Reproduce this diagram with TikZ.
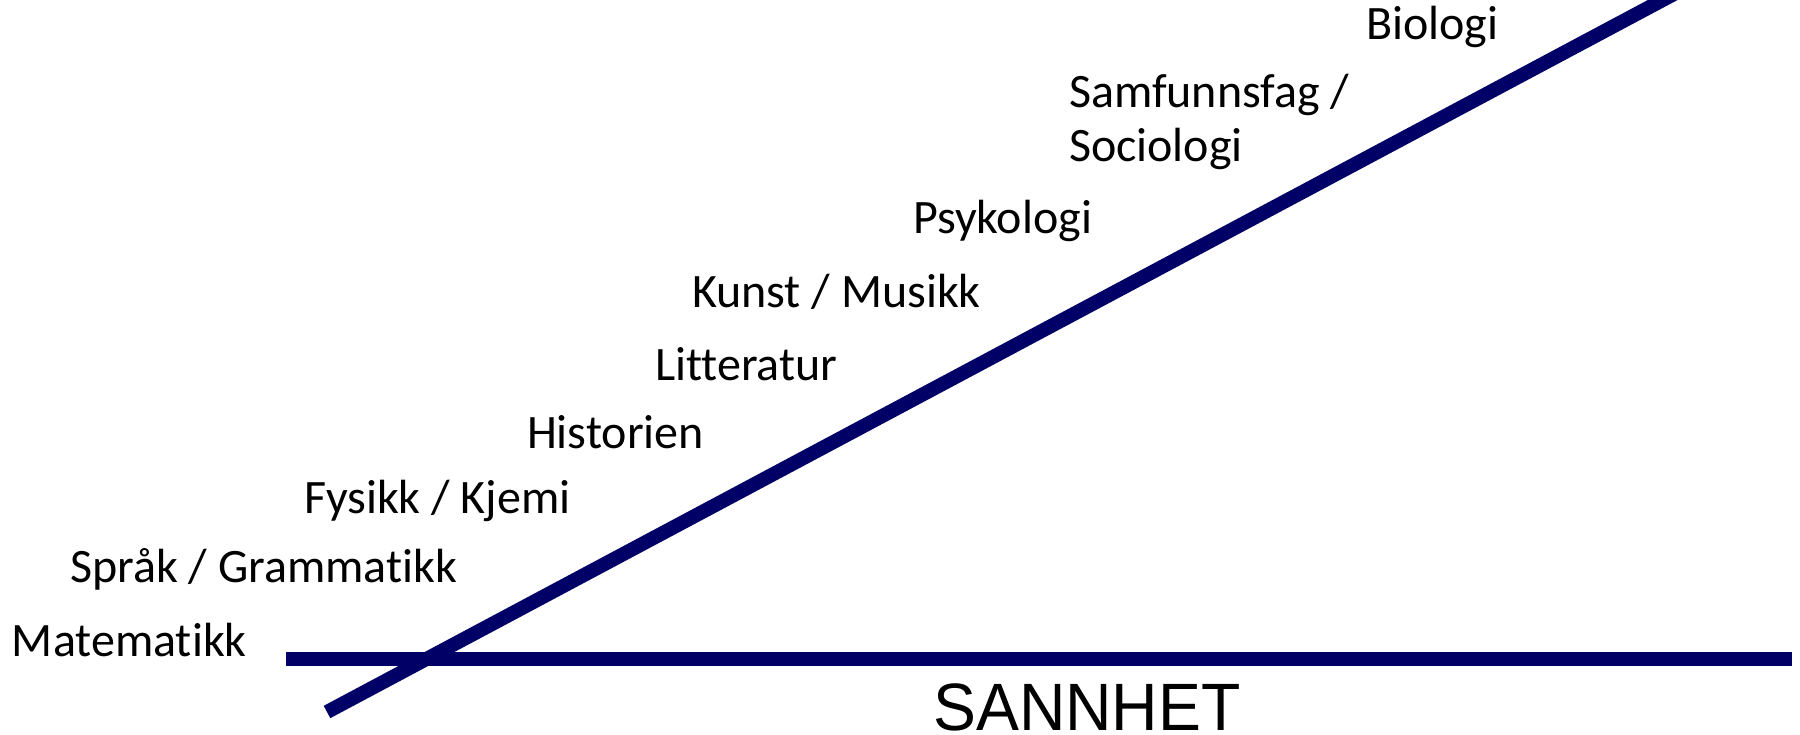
\documentclass[tikz,border=0pt]{standalone}
\usepackage{fontspec}
\setmainfont{Carlito}[Ligatures={NoCommon}]
\newfontfamily\arialfont{Liberation Sans}
\definecolor{navyline}{RGB}{0,0,102}
\tikzset{
  lbl/.style={anchor=base west, inner sep=0pt, outer sep=0pt, font=\fontsize{48}{56}\selectfont, text=black},
  axis/.style={draw=navyline, line width=14pt, line cap=butt},
}
\begin{document}
\begin{tikzpicture}[x=1pt, y=-1pt]
\useasboundingbox (0,0) rectangle (1800,735);
\fill[white] (0,0) rectangle (1800,735);
\coordinate (hstart) at (286,659);
\coordinate (hend) at (1792,659);
\coordinate (dstart) at (327,712);
\coordinate (dend) at (1719,-30);
\begin{scope}
\clip (0,0) rectangle (1800,735);
\draw[axis] (hstart) -- (hend);
\draw[axis] (dstart) -- (dend);
\end{scope}
\node[lbl] (bio) at (1366,40) {Biologi};
\node[lbl] (samf) at (1069,108) {Samfunnsfag /};
\node[lbl] (soc) at (1069,162) {Sociologi};
\node[lbl] (psy) at (913,234) {Psykologi};
\node[lbl] (kun) at (692,308) {Kunst / Musikk};
\node[lbl] (lit) at (655,381) {Litteratur};
\node[lbl] (his) at (527,448) {Historien};
\node[lbl] (fys) at (304,513) {Fysikk / Kjemi};
\node[lbl] (spr) at (70,582) {Språk / Grammatikk};
\node[lbl] (mat) at (12,656) {Matematikk};
\node[anchor=base west, inner sep=0pt, font=\arialfont\fontsize{67}{80}\selectfont] (sann) at (933,730) {\scalebox{0.96}[1]{SANNHET}};
\end{tikzpicture}
\end{document}
